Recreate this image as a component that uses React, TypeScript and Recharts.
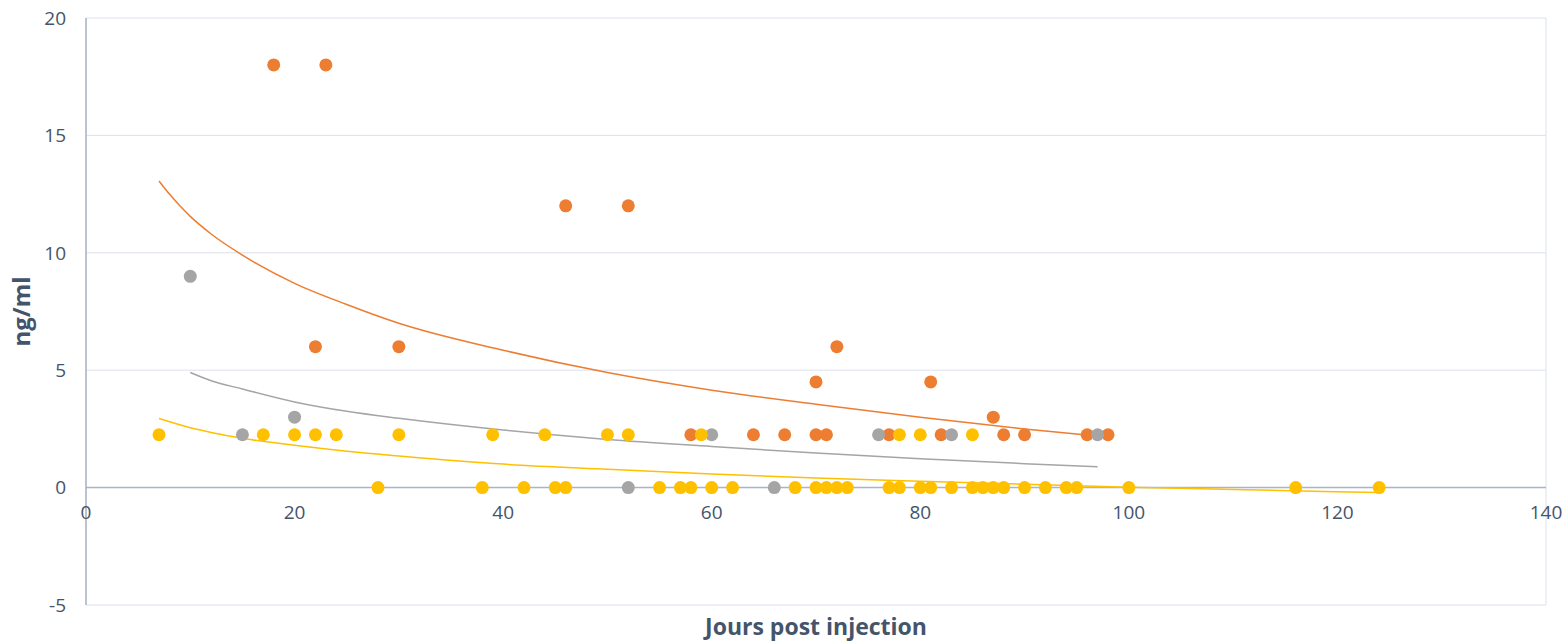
import {
  ComposedChart,
  Scatter,
  Line,
  XAxis,
  YAxis,
  CartesianGrid,
  ReferenceLine,
  ReferenceDot,
} from "recharts";

// [jours, ng/ml]
const orangePoints = [
  [18, 18], [23, 18], [22, 6], [30, 6], [46, 12], [52, 12], [58, 2.25], [64, 2.25],
  [67, 2.25], [70, 4.5], [70, 2.25], [71, 2.25], [72, 6], [77, 2.25], [81, 4.5],
  [82, 2.25], [87, 3], [88, 2.25], [90, 2.25], [96, 2.25], [98, 2.25],
];

const grayPoints = [
  [10, 9], [15, 2.25], [20, 3], [52, 0], [60, 2.25], [66, 0], [76, 2.25], [83, 2.25], [97, 2.25],
];

const yellowPoints = [
  [7, 2.25], [17, 2.25], [20, 2.25], [22, 2.25], [24, 2.25], [30, 2.25], [39, 2.25], [44, 2.25],
  [50, 2.25], [52, 2.25], [59, 2.25], [78, 2.25], [80, 2.25], [85, 2.25],
  [28, 0], [38, 0], [42, 0], [45, 0], [46, 0], [55, 0], [57, 0], [58, 0], [60, 0], [62, 0],
  [68, 0], [70, 0], [71, 0], [72, 0], [73, 0], [77, 0], [78, 0], [80, 0], [81, 0], [83, 0],
  [85, 0], [86, 0], [87, 0], [88, 0], [90, 0], [92, 0], [94, 0], [95, 0], [100, 0], [116, 0], [124, 0],
];

// trendlines (logarithmic)
const orangeTrend = [
  [7, 13.06], [8, 12.5], [9, 12.0], [10, 11.55], [12, 10.8], [15, 9.9], [20, 8.7], [25, 7.8],
  [30, 7.0], [40, 5.85], [50, 4.9], [60, 4.15], [70, 3.55], [80, 3.0], [90, 2.5], [98, 2.15],
];
const grayTrend = [
  [10, 4.9], [12, 4.55], [15, 4.2], [20, 3.65], [25, 3.25], [30, 2.95], [40, 2.45], [50, 2.05],
  [60, 1.75], [70, 1.47], [80, 1.23], [90, 1.02], [97, 0.89],
];
const yellowTrend = [
  [7, 2.94], [10, 2.55], [12, 2.35], [15, 2.1], [20, 1.8], [25, 1.55], [30, 1.35], [40, 1.0],
  [50, 0.78], [60, 0.58], [70, 0.41], [80, 0.27], [90, 0.14], [100, 0.02], [110, -0.08], [124, -0.21],
];

const xTicks = [0, 20, 40, 60, 80, 100, 120, 140];
const yTicks = [-5, 0, 5, 10, 15, 20];

const toRows = (pts: number[][]) => pts.map(([x, y]) => ({ x, y }));

const ORANGE = "#ED7D31";
const GRAY = "#A5A5A5";
const YELLOW = "#FFC000";
const TEXT = "#44546A";
const AXIS = "#A9B4C8";
const GRID = "#DCE1EA";
const FONT = "'Open Sans', Lato, sans-serif";

const Dot = (color: string) => (props: any) => (
  <circle cx={props.cx} cy={props.cy} r={6.5} fill={color} />
);

export default function App() {
  return (
    <div style={{ position: "absolute", left: 0, top: 0, background: "#fff" }}>
      <ComposedChart
        width={1564}
        height={643}
        margin={{ top: 18, right: 18, bottom: 0, left: 10 }}
        style={{ fontFamily: FONT }}
      >
        <CartesianGrid stroke={GRID} strokeWidth={1} />
        <XAxis
          type="number"
          dataKey="x"
          domain={[0, 140]}
          ticks={xTicks}
          tick={false}
          tickLine={false}
          axisLine={false}
          height={38}
          label={{
            value: "Jours post injection",
            position: "insideBottom",
            offset: 8,
            fill: TEXT,
            fontSize: 23,
            fontWeight: 700,
          }}
        />
        <YAxis
          type="number"
          dataKey="y"
          domain={[-5, 20]}
          ticks={yTicks}
          width={76}
          tickLine={false}
          tickSize={18}
          axisLine={{ stroke: AXIS, strokeWidth: 1.5 }}
          tick={{ fill: TEXT, fontSize: 19 }}
          label={{
            value: "ng/ml",
            angle: -90,
            position: "insideLeft",
            offset: 11,
            fill: TEXT,
            fontSize: 24,
            fontWeight: 700,
            style: { textAnchor: "middle" },
          }}
        />
        <ReferenceLine y={0} stroke={AXIS} strokeWidth={1.5} />
        {xTicks.map((v) => (
          <ReferenceDot
            key={v}
            x={v}
            y={0}
            r={0}
            fill="none"
            stroke="none"
            label={{ value: v, position: "bottom", offset: 18, fill: TEXT, fontSize: 19 }}
          />
        ))}
        <Scatter data={toRows(orangePoints)} fill={ORANGE} shape={Dot(ORANGE)} isAnimationActive={false} />
        <Scatter data={toRows(grayPoints)} fill={GRAY} shape={Dot(GRAY)} isAnimationActive={false} />
        <Scatter data={toRows(yellowPoints)} fill={YELLOW} shape={Dot(YELLOW)} isAnimationActive={false} />
        <Line data={toRows(orangeTrend)} dataKey="y" type="monotone" stroke={ORANGE} strokeWidth={1.5} dot={false} isAnimationActive={false} />
        <Line data={toRows(grayTrend)} dataKey="y" type="monotone" stroke={GRAY} strokeWidth={1.5} dot={false} isAnimationActive={false} />
        <Line data={toRows(yellowTrend)} dataKey="y" type="monotone" stroke={YELLOW} strokeWidth={1.5} dot={false} isAnimationActive={false} />
      </ComposedChart>
    </div>
  );
}
